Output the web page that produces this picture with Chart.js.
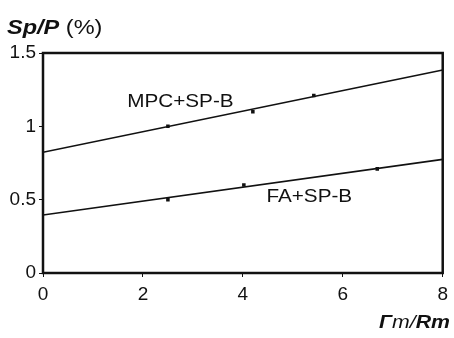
<!DOCTYPE html>
<html>
<head>
<meta charset="utf-8">
<script src="https://cdn.jsdelivr.net/npm/chart.js@4/dist/chart.umd.min.js"></script>
<style>
html,body{margin:0;padding:0;background:#fff;}
#wrap{width:454px;height:338px;position:relative;}
</style>
</head>
<body>
<div id="wrap"><canvas id="c" width="454" height="338"></canvas></div>
<script>
// Data
const mpcX = [2.5, 4.2, 5.42];
const mpcY = [1.0, 1.10, 1.21];
const faX = [2.5, 4.02, 6.69];
const faY = [0.50, 0.60, 0.71];
// fitted straight lines (endpoints at x = 0 and x = 8)
const fitX = [0, 8];
const mpcFitY = [0.823, 1.384];
const faFitY = [0.395, 0.775];
const xTicks = [0, 2, 4, 6, 8];
const yTicks = [0, 0.5, 1, 1.5];
const yTickLabels = ['0', '0.5', '1', '1.5'];
const seriesLabels = ['MPC+SP-B', 'FA+SP-B'];
const labelPos = [[2.75, 1.166], [5.33, 0.518]];

const toPts = (xs, ys) => xs.map((x, i) => ({x: x, y: ys[i]}));
const INK = '#111';

const framePlugin = {
  id: 'frame',
  afterDraw(chart) {
    const ctx = chart.ctx, a = chart.chartArea;
    ctx.save();
    ctx.strokeStyle = INK;
    ctx.lineWidth = 2.5;
    ctx.strokeRect(a.left, a.top, a.right - a.left, a.bottom - a.top);
    // series labels
    const xs = chart.scales.x, ys = chart.scales.y;
    ctx.fillStyle = INK;
    ctx.textBaseline = 'middle';
    ctx.textAlign = 'center';
    seriesLabels.forEach((t, i) => {
      const px = xs.getPixelForValue(labelPos[i][0]);
      const py = ys.getPixelForValue(labelPos[i][1]);
      ctx.save();
      ctx.translate(px, py);
      ctx.scale(1.15, 1);
      ctx.font = '18px "Liberation Sans", Arial, sans-serif';
      ctx.fillText(t, 0, 0);
      ctx.restore();
    });
    // axis titles (mixed styles)
    const drawRuns = (runs, x, y, align) => {
      ctx.save();
      ctx.textAlign = 'left';
      ctx.textBaseline = 'alphabetic';
      let w = 0;
      runs.forEach(r => { ctx.font = r[1]; w += ctx.measureText(r[0]).width; });
      let cx = align === 'right' ? x - w * 1.12 : x;
      ctx.translate(cx, y);
      ctx.scale(1.12, 1);
      let off = 0;
      runs.forEach(r => { ctx.font = r[1]; ctx.fillText(r[0], off, 0); off += ctx.measureText(r[0]).width; });
      ctx.restore();
    };
    const F = '"Liberation Sans", Arial, sans-serif';
    drawRuns([['Sp/P', 'italic bold 21px ' + F], [' (%)', '21px ' + F]], 7, 34, 'left');
    drawRuns([['\u0393', 'italic bold 19px ' + F], ['m', 'italic 19px ' + F], ['/', 'italic 19px ' + F], ['R', 'italic bold 19px ' + F], ['m', 'italic bold 19px ' + F]], 450, 328, 'right');
    ctx.restore();
  }
};

new Chart(document.getElementById('c'), {
  type: 'scatter',
  data: {
    datasets: [
      {data: toPts(fitX, mpcFitY), showLine: true, borderColor: INK, borderWidth: 1.6, pointRadius: 0, fill: false},
      {data: toPts(fitX, faFitY), showLine: true, borderColor: INK, borderWidth: 1.6, pointRadius: 0, fill: false},
      {data: toPts(mpcX, mpcY), pointStyle: 'rect', pointRadius: 2.5, backgroundColor: INK, borderColor: INK, borderWidth: 0},
      {data: toPts(faX, faY), pointStyle: 'rect', pointRadius: 2.5, backgroundColor: INK, borderColor: INK, borderWidth: 0}
    ]
  },
  options: {
    responsive: false,
    animation: false,
    layout: {padding: {top: 53, right: 7, left: 0, bottom: 0}},
    plugins: {legend: {display: false}, tooltip: {enabled: false}},
    scales: {
      x: {
        type: 'linear', min: 0, max: 8,
        afterBuildTicks: s => { s.ticks = xTicks.map(v => ({value: v})); },
        afterFit: s => { s.height = 65; },
        border: {display: false},
        grid: {drawOnChartArea: false, drawTicks: true, tickLength: 4, tickColor: INK, lineWidth: 1},
        ticks: {color: INK, padding: 6, font: {family: '"Liberation Sans", Arial, sans-serif', size: 19}, maxRotation: 0}
      },
      y: {
        type: 'linear', min: 0, max: 1.5,
        afterBuildTicks: s => { s.ticks = yTicks.map(v => ({value: v})); },
        afterFit: s => { s.width = 43; },
        border: {display: false},
        grid: {drawOnChartArea: false, drawTicks: true, tickLength: 4, tickColor: INK, lineWidth: 1},
        ticks: {color: INK, padding: 3, font: {family: '"Liberation Sans", Arial, sans-serif', size: 19},
          callback: (v) => { const i = yTicks.indexOf(v); return i >= 0 ? yTickLabels[i] : ''; }}
      }
    }
  },
  plugins: [framePlugin]
});
</script>
</body>
</html>
